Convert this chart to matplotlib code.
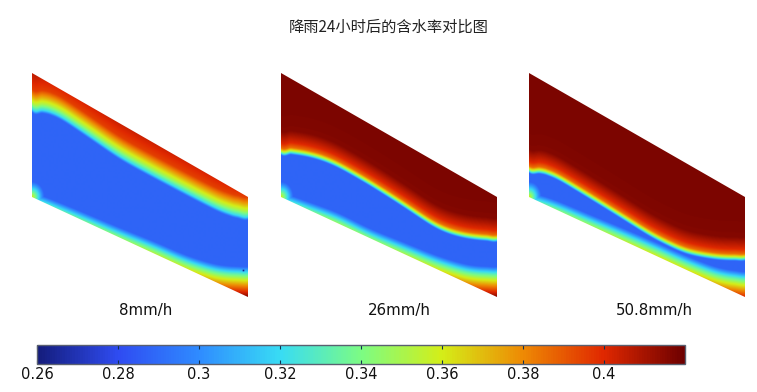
# plot.py
# moisture content after 24h of rain, three rain intensities
import numpy as np
import matplotlib
matplotlib.use("Agg")
import matplotlib.pyplot as plt
from matplotlib.cm import ScalarMappable
from matplotlib.colors import LinearSegmentedColormap, Normalize
from matplotlib.patches import Polygon

TITLE = "降雨24小时后的含水率对比图"
RAIN_LABELS = ["8mm/h", "26mm/h", "50.8mm/h"]

CB_MIN = 0.26
CB_MAX = 0.42
CB_TICKS = [0.26, 0.28, 0.30, 0.32, 0.34, 0.36, 0.38, 0.40]
CB_TICK_LABELS = ["0.26", "0.28", "0.3", "0.32", "0.34", "0.36", "0.38", "0.4"]
CB_COLORS = ["#141c7c", "#2f4cf2", "#2f8cff", "#38dcf4", "#7cfc84",
             "#d4ee18", "#ee8a04", "#e02800", "#6e0000"]

# slope outline (horizontal distance, elevation)
SLOPE_X = [0, 216]
SURFACE_Z = [224, 100]
BASE_Z = [100, 0]

# wetting fronts
X_UP_8 = [0, 21, 55, 88, 121, 155, 188, 201, 216]
Z_UP_8 = [188, 186, 163, 140, 122, 104, 87, 82, 80]
X_LOW_8 = [0, 21, 55, 88, 121, 155, 188, 216]
Z_LOW_8 = [104, 96, 82, 68, 55, 40, 30, 29]

X_UP_26 = [0, 9, 22, 39, 56, 89, 122, 156, 172, 189, 215]
Z_UP_26 = [144, 145, 143, 139, 132, 113, 92, 69, 63, 59, 57]
X_LOW_26 = [0, 22, 56, 89, 122, 156, 189, 215]
Z_LOW_26 = [104, 96, 84, 67, 54, 40, 30, 29]

X_UP_50 = [0, 17, 24, 57, 91, 124, 157, 191, 216]
Z_UP_50 = [126, 125, 122, 102, 81, 60, 44, 38, 38]
X_LOW_50 = [0, 24, 57, 91, 124, 157, 191, 216]
Z_LOW_50 = [104, 97, 83, 69, 55, 40, 27, 24]

# moisture against distance from the front
BLUE = 0.288
D_UP_8 = [-3, 0, 6, 12, 20, 35]
V_UP_8 = [BLUE, 0.32, 0.35, 0.37, 0.395, 0.405]
D_UP_WET = [-2, 0, 2, 5, 10, 22, 40]
V_UP_WET = [BLUE, 0.325, 0.355, 0.385, 0.40, 0.416, 0.417]
D_LOW = [-1, 0, 6, 12, 18, 24, 30]
V_LOW = [BLUE, 0.295, 0.33, 0.358, 0.38, 0.40, 0.42]

PANEL_LEFT = [32, 281, 529]
LABEL_X = [146, 399.5, 654]
PANEL_TOP = 73
W, H = 757, 392
PANEL_W = 216
PANEL_H = 224


def smooth_front(x, xs, zs, half=10):
    # box average so the read points do not show as corners
    grid = np.arange(-half, 217 + half)
    vals = np.interp(grid, xs, zs)
    kernel = np.ones(2 * half + 1) / (2 * half + 1)
    vals = np.convolve(vals, kernel, mode="same")
    vals = np.convolve(vals, kernel, mode="same")
    keep = (grid >= 0) & (grid <= 216)
    # edges: keep the read value, the convolution loses it there
    edge = np.minimum(grid[keep], 216 - grid[keep]) / (2 * half)
    w = np.clip(edge, 0, 1)
    vals = w * vals[keep] + (1 - w) * np.interp(grid[keep], xs, zs)
    return np.interp(x, grid[keep], vals)


def field(x, z, xu, zu, xl, zl, du, vu):
    up = smooth_front(x, xu, zu)
    low = smooth_front(x, xl, zl)
    v = np.full(x.shape, BLUE)
    v = np.maximum(v, np.interp(z - up, du, vu, left=BLUE))
    v = np.maximum(v, np.interp(low - z, D_LOW, V_LOW, left=BLUE))
    # wet spot at the slope toe
    r = np.hypot(x, (z - 100) * 0.8)
    v = np.maximum(v, np.interp(r, [0, 4, 9, 12], [0.36, 0.335, 0.305, BLUE]))
    return v


cmap = LinearSegmentedColormap.from_list("moisture", CB_COLORS)
norm = Normalize(CB_MIN, CB_MAX)

fig = plt.figure(figsize=(W / 100, H / 100), dpi=100)
fig.text(389 / W, 1 - 27 / H, TITLE, ha="center", va="center", fontsize=11,
         family=["Noto Sans CJK SC", "DejaVu Sans"], color="#222222")

panels = [
    (X_UP_8, Z_UP_8, X_LOW_8, Z_LOW_8, D_UP_8, V_UP_8),
    (X_UP_26, Z_UP_26, X_LOW_26, Z_LOW_26, D_UP_WET, V_UP_WET),
    (X_UP_50, Z_UP_50, X_LOW_50, Z_LOW_50, D_UP_WET, V_UP_WET),
]

xx, zz = np.meshgrid(np.linspace(0, 216, 433), np.linspace(0, 224, 449))
for i, p in enumerate(panels):
    ax = fig.add_axes([PANEL_LEFT[i] / W, 1 - (PANEL_TOP + PANEL_H) / H, PANEL_W / W, PANEL_H / H])
    ax.set_xlim(0, 216)
    ax.set_ylim(0, 224)
    ax.axis("off")
    im = ax.imshow(field(xx, zz, *p), origin="lower", extent=[0, 216, 0, 224],
                   cmap=cmap, norm=norm, aspect="auto", interpolation="bilinear")
    outline = Polygon([(SLOPE_X[0], SURFACE_Z[0]), (SLOPE_X[1], SURFACE_Z[1]),
                       (SLOPE_X[1], BASE_Z[1]), (SLOPE_X[0], BASE_Z[0])],
                      closed=True, transform=ax.transData)
    im.set_clip_path(outline)
    if i == 0:
        # small dark dot near the toe of the first panel
        ax.plot([211], [27], "s", ms=1.2, color="#14208c", mew=0)
    fig.text(LABEL_X[i] / W, 1 - 310 / H, RAIN_LABELS[i],
             ha="center", va="center", fontsize=10.8, color="#111111")

cax = fig.add_axes([37 / W, 1 - 364 / H, 648 / W, 19 / H])
cb = fig.colorbar(ScalarMappable(norm, cmap), cax=cax, orientation="horizontal")
cb.set_ticks(CB_TICKS)
cb.set_ticklabels(CB_TICK_LABELS)
cb.ax.tick_params(direction="in", length=3, width=0.8, color="#103050", top=True, bottom=True,
                  labelsize=10.5, pad=2, labelcolor="#111111")
cb.ax.minorticks_off()
cb.outline.set_edgecolor("#5a6070")
cb.outline.set_linewidth(1.0)

fig.savefig("out.png", dpi=100)
